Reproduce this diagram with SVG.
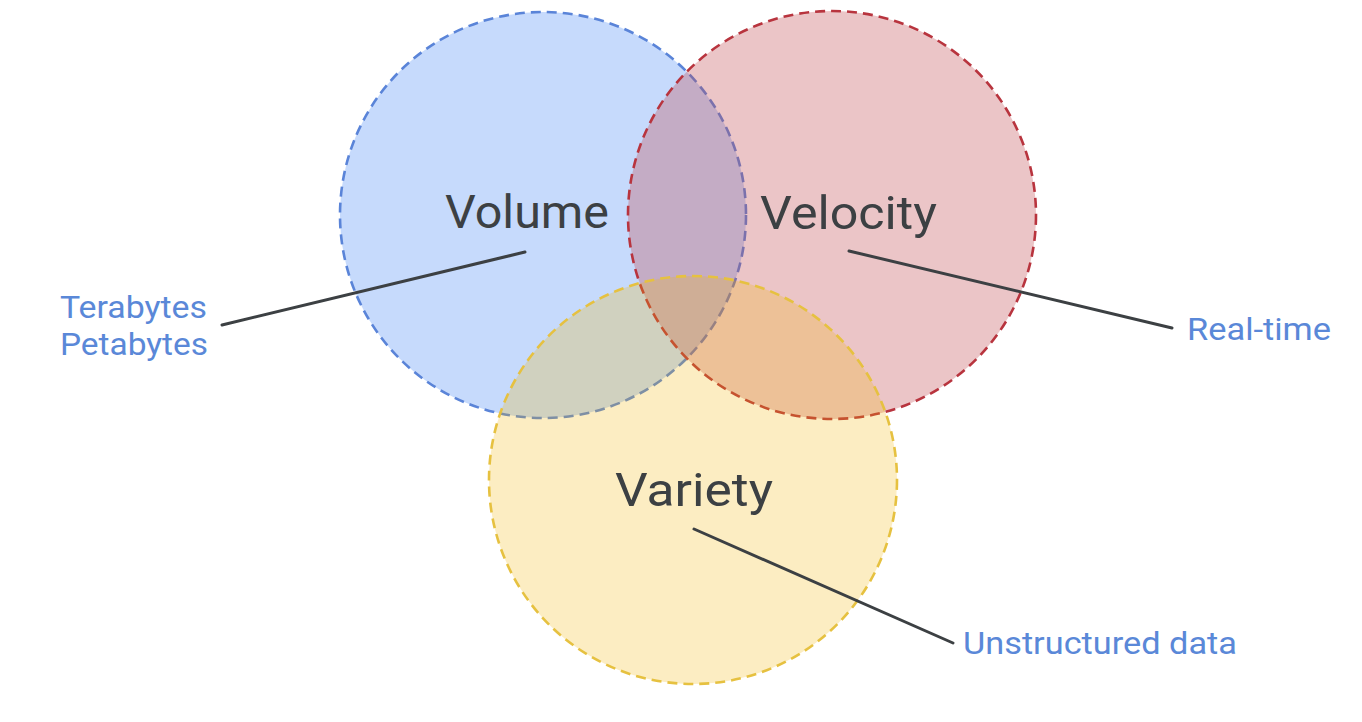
<svg xmlns="http://www.w3.org/2000/svg" width="1362" height="722" viewBox="0 0 1362 722">
<style>
.c{stroke-width:2.6;stroke-dasharray:10 6}
.title{font-family:Roboto,"Noto Sans",sans-serif;font-size:46px;fill:#3c4043}
.lbl{font-family:Roboto,"Noto Sans",sans-serif;font-size:31px;fill:#5a88d8}
.lead{stroke:#3c4043;stroke-width:3;stroke-linecap:round;fill:none}
</style>
<rect width="1362" height="722" fill="#ffffff"/>
<g id="volume">
<circle class="c" cx="543" cy="215" r="203" fill="#4285f4" fill-opacity="0.3" stroke="#5a84d8"/>
<text class="title" x="445" y="228" textLength="164" lengthAdjust="spacingAndGlyphs">Volume</text>
</g>
<g id="velocity">
<circle class="c" cx="832" cy="215" r="204" fill="#c04a52" fill-opacity="0.32" stroke="#b8343e"/>
<text class="title" x="760" y="229" textLength="177" lengthAdjust="spacingAndGlyphs">Velocity</text>
</g>
<g id="variety">
<circle class="c" cx="693" cy="480" r="204" fill="#f4b400" fill-opacity="0.24" stroke="#e6c140"/>
<text class="title" x="615" y="506" textLength="158" lengthAdjust="spacingAndGlyphs">Variety</text>
</g>
<g id="connectors">
<line class="lead" x1="525" y1="252" x2="222" y2="325"/>
<line class="lead" x1="849" y1="251" x2="1172" y2="328"/>
<line class="lead" x1="694" y1="529" x2="953" y2="643"/>
</g>
<g id="labels">
<text class="lbl" x="60" y="318" textLength="147" lengthAdjust="spacingAndGlyphs">Terabytes</text>
<text class="lbl" x="60" y="355" textLength="148" lengthAdjust="spacingAndGlyphs">Petabytes</text>
<text class="lbl" x="1187" y="340" textLength="144" lengthAdjust="spacingAndGlyphs">Real-time</text>
<text class="lbl" x="963" y="654" textLength="274" lengthAdjust="spacingAndGlyphs">Unstructured data</text>
</g>
</svg>
